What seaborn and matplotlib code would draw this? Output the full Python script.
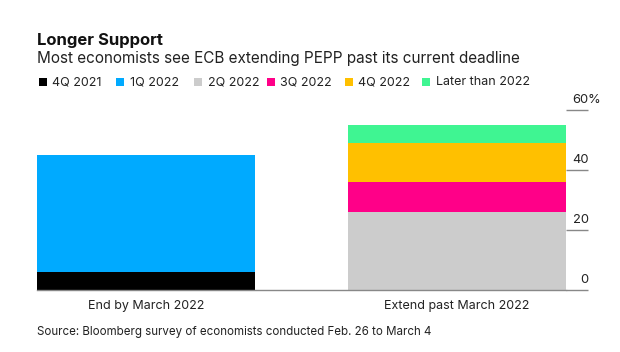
import numpy as np
import pandas as pd
import matplotlib.pyplot as plt
import seaborn as sns
from matplotlib.patches import Rectangle

# Share of economists by expected end of PEPP (%)
categories = ['End by March 2022', 'Extend past March 2022']
series = ['4Q 2021', '1Q 2022', '2Q 2022', '3Q 2022', '4Q 2022', 'Later than 2022']
values = {
    '4Q 2021': [6, 0],
    '1Q 2022': [39, 0],
    '2Q 2022': [0, 26],
    '3Q 2022': [0, 10],
    '4Q 2022': [0, 13],
    'Later than 2022': [0, 6],
}
colors = ['#000000', '#00aaff', '#cccccc', '#ff0088', '#ffc000', '#3ff592']
yticks = [0, 20, 40, 60]

sns.set_theme(style='white')
plt.rcParams['font.family'] = ['Inter', 'DejaVu Sans']

W, H = 620, 352
fig = plt.figure(figsize=(6.2, 3.52), dpi=100)
ax = fig.add_axes([37 / W, 1 - 290 / H, (566 - 37) / W, (290 - 110) / H])

# stacked bars: draw cumulative totals from the top layer down
df = pd.DataFrame(values, index=categories)
cum = df.cumsum(axis=1)
for name, col in reversed(list(zip(series, colors))):
    sns.barplot(x=categories, y=cum[name].values, color=col, width=0.7,
                saturation=1, ax=ax, linewidth=0)

for s in ['top', 'left', 'right']:
    ax.spines[s].set_visible(False)
ax.spines['bottom'].set_color('#888888')
ax.spines['bottom'].set_linewidth(1)
ax.set_xlim(-0.35, 1.35)
ax.set_ylim(0, 60)

ax.tick_params(axis='x', length=0, pad=7, labelsize=9, labelcolor='#222222')
ax.yaxis.tick_right()
ax.set_yticks(yticks)
ax.set_yticklabels([])
ax.tick_params(axis='y', length=15.5, width=1, color='#888888', direction='out', pad=0)

for t in yticks:
    ax.annotate(str(t), xy=(1, t), xycoords=('axes fraction', 'data'),
                xytext=(16.3, 7.5), textcoords='offset points', ha='right', va='center',
                fontsize=9.3, color='#222222')
# "%" right after the top label
ax.annotate('%', xy=(1, 60), xycoords=('axes fraction', 'data'),
            xytext=(15.6, 7.5), textcoords='offset points', ha='left', va='center',
            fontsize=9.3, color='#222222')

fig.text(37 / W, 1 - 40 / H, 'Longer Support', fontsize=12, fontweight='bold',
         va='center', ha='left', color='#111111')
fig.text(37 / W, 1 - 58.5 / H, 'Most economists see ECB extending PEPP past its current deadline',
         fontsize=11, va='center', ha='left', color='#222222')

# legend row, placed by hand to match the source layout
legend_x = [39, 116, 194, 267, 345, 422]
ly = 82
for x, name, col in zip(legend_x, series, colors):
    fig.patches.append(Rectangle((x / W, 1 - (ly + 4) / H), 8 / W, 8 / H,
                                 transform=fig.transFigure, facecolor=col,
                                 edgecolor='none'))
    fig.text((x + 13.5) / W, 1 - ly / H, name, fontsize=9, va='center', ha='left',
             color='#222222')

fig.text(37 / W, 1 - 331.5 / H,
         'Source: Bloomberg survey of economists conducted Feb. 26 to March 4',
         fontsize=8.3, va='center', ha='left', color='#222222')

fig.savefig('out.png', dpi=100, facecolor='white')
